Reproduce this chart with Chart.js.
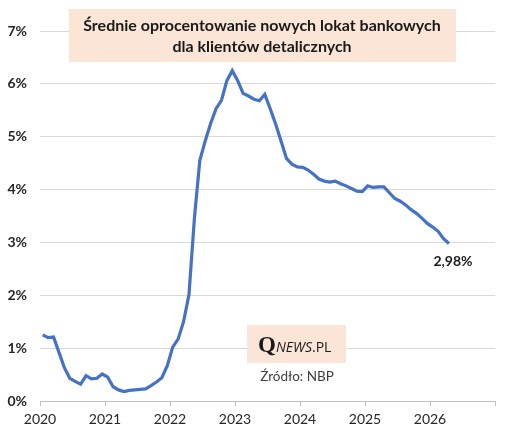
<!DOCTYPE html>
<html>
<head>
<meta charset="utf-8">
<script src="https://cdn.jsdelivr.net/npm/chart.js@4"></script>
<style>
  html, body { margin: 0; padding: 0; background: #ffffff; }
  canvas { display: block; }
</style>
</head>
<body>
<canvas id="c" width="510" height="436"></canvas>
<script>
// ---- data ----
const startYear = 2020;
const startMonth = 1; // January
const values = [
  1.25, 1.20, 1.21, 0.92, 0.63, 0.43, 0.37, 0.32, 0.48, 0.42, 0.43, 0.51,
  0.45, 0.27, 0.21, 0.18, 0.20, 0.21, 0.22, 0.23, 0.29, 0.36, 0.44, 0.67,
  1.02, 1.17, 1.50, 2.01, 3.45, 4.55, 4.92, 5.25, 5.53, 5.69, 6.06, 6.25,
  6.06, 5.82, 5.77, 5.71, 5.68, 5.80, 5.53, 5.24, 4.92, 4.59, 4.48, 4.43,
  4.42, 4.37, 4.29, 4.20, 4.16, 4.14, 4.16, 4.11, 4.07, 4.02, 3.97, 3.96,
  4.07, 4.04, 4.05, 4.05, 3.94, 3.83, 3.78, 3.71, 3.62, 3.55, 3.46, 3.36,
  3.29, 3.21, 3.07, 2.98
];
const yearTicks = [2020, 2021, 2022, 2023, 2024, 2025, 2026, 2027];
const yTicks = [0, 1, 2, 3, 4, 5, 6, 7];
const titleLines = ['Średnie oprocentowanie nowych lokat bankowych', 'dla klientów detalicznych'];
const sourceText = 'Źródło: NBP';
const lastLabel = '2,98%';

const points = values.map((v, i) => ({ x: startYear + (startMonth - 1 + i + 0.5) / 12, y: v }));

const overlay = {
  id: 'overlay',
  afterDraw(chart) {
    const ctx = chart.ctx;
    ctx.save();
    // title box
    ctx.fillStyle = '#fbe5d6';
    ctx.fillRect(69, 9, 387, 53);
    ctx.fillStyle = '#1a1a1a';
    ctx.font = 'bold 16px Lato';
    ctx.textAlign = 'center';
    ctx.textBaseline = 'middle';
    ctx.fillText(titleLines[0], 262, 26);
    ctx.fillText(titleLines[1], 262, 47);

    // logo box
    ctx.fillStyle = '#fbe5d6';
    ctx.fillRect(247, 325, 99, 38);
    ctx.fillStyle = '#1a1a1a';
    ctx.textAlign = 'left';
    ctx.textBaseline = 'alphabetic';
    ctx.font = 'bold 23px "Liberation Serif"';
    ctx.fillText('Q', 258, 352);
    const qw = ctx.measureText('Q').width;
    ctx.font = 'italic 14px "Open Sans"';
    ctx.fillText('NEWS', 258 + qw, 352);
    const nw = ctx.measureText('NEWS').width;
    ctx.font = '14px "Open Sans"';
    ctx.fillText('.PL', 258 + qw + nw, 352);

    // source
    ctx.fillStyle = '#404040';
    ctx.font = '13.5px Lato';
    ctx.textAlign = 'center';
    ctx.textBaseline = 'middle';
    ctx.fillText(sourceText, 297, 377);

    // last value label
    const xs = chart.scales.x, ys = chart.scales.y;
    const last = points[points.length - 1];
    const px = xs.getPixelForValue(last.x), py = ys.getPixelForValue(last.y);
    ctx.fillStyle = '#1a1a1a';
    ctx.font = 'bold 14px Lato';
    ctx.fillText(lastLabel, px + 4, py + 18);
    ctx.restore();
  }
};

new Chart(document.getElementById('c'), {
  type: 'line',
  data: {
    datasets: [{
      data: points,
      borderColor: '#4472c4',
      borderWidth: 3.2,
      pointRadius: 0,
      tension: 0,
      fill: false
    }]
  },
  options: {
    responsive: false,
    animation: false,
    layout: { padding: { top: 31, right: 15, left: 0, bottom: 0 } },
    plugins: { legend: { display: false }, tooltip: { enabled: false } },
    scales: {
      x: {
        type: 'linear',
        min: yearTicks[0],
        max: yearTicks[yearTicks.length - 1],
        afterBuildTicks: s => { s.ticks = yearTicks.map(v => ({ value: v })); },
        afterFit: s => { s.height = 35; },
        grid: { drawOnChartArea: false, drawTicks: true, tickLength: 5, color: '#bfbfbf' },
        border: { display: true, color: '#bfbfbf', width: 1 },
        ticks: {
          autoSkip: false,
          maxRotation: 0,
          padding: 5,
          color: '#262626',
          font: { family: 'Lato', size: 14 },
          callback: v => (v === yearTicks[yearTicks.length - 1] ? '' : String(v))
        }
      },
      y: {
        min: yTicks[0],
        max: yTicks[yTicks.length - 1],
        afterBuildTicks: s => { s.ticks = yTicks.map(v => ({ value: v })); },
        afterFit: s => { s.width = 40; },
        grid: { color: '#d9d9d9', drawTicks: false, lineWidth: 1 },
        border: { display: false },
        ticks: {
          padding: 13,
          color: '#262626',
          font: { family: 'Lato', size: 14, weight: 'bold' },
          callback: v => v + '%'
        }
      }
    }
  },
  plugins: [overlay]
});
</script>
</body>
</html>
